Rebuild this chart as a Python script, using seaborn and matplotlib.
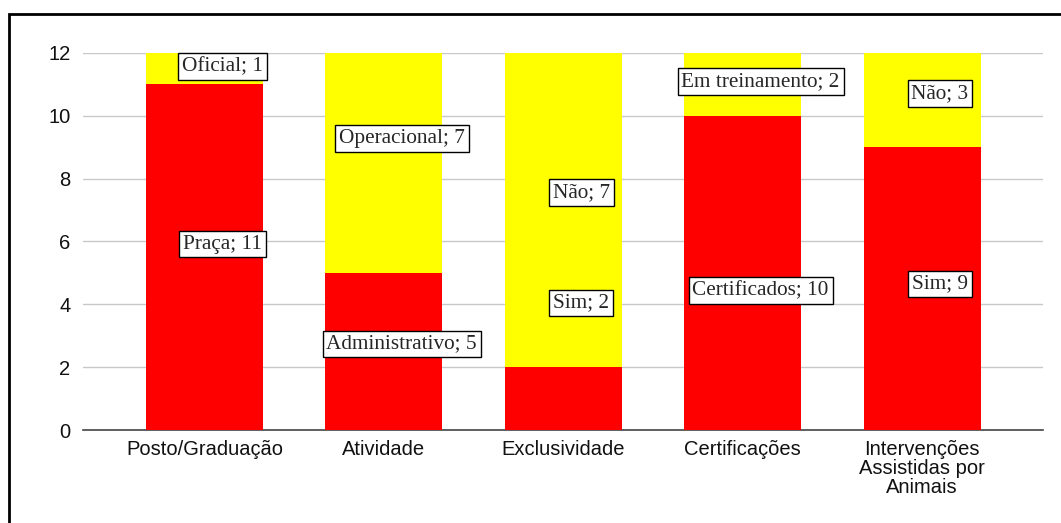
import matplotlib
matplotlib.use('Agg')
import matplotlib.pyplot as plt
import seaborn as sns
import pandas as pd
from matplotlib.patches import Rectangle

# dados
categorias = ['Posto/Graduação', 'Atividade', 'Exclusividade', 'Certificações',
              'Intervenções\nAssistidas por\nAnimais']
base = [11, 5, 2, 10, 9]          # série vermelha
topo = [1, 7, 10, 2, 3]           # série amarela (como desenhada)
rotulos_base = ['Praça; 11', 'Administrativo; 5', 'Sim; 2', 'Certificados; 10', 'Sim; 9']
rotulos_topo = ['Oficial; 1', 'Operacional; 7', 'Não; 7', 'Em treinamento; 2', 'Não; 3']
yticks = [0, 2, 4, 6, 8, 10, 12]

# posição dos rótulos (em unidades do eixo y)
pos_base = [5.92, 2.74, 4.04, 4.43, 4.65]
pos_topo = [11.56, 9.27, 7.55, 11.1, 10.7]

df = pd.DataFrame({'cat': categorias, 'base': base, 'topo': topo})
df['total'] = df['base'] + df['topo']

sns.set_style('white')
plt.rcParams['font.family'] = ['Liberation Sans', 'DejaVu Sans']

fig = plt.figure(figsize=(10.61, 5.23), dpi=100)
ax = fig.add_axes([0.0782, 0.1778, 0.9048, 0.7209])

sns.barplot(data=df, x='cat', y='total', color='#ffff00', saturation=1,
            width=0.652, linewidth=0, ax=ax, zorder=2)
sns.barplot(data=df, x='cat', y='base', color='#ff0000', saturation=1,
            width=0.652, linewidth=0, ax=ax, zorder=3)

ax.set_xlim(-0.677, 4.674)
ax.set_ylim(0, 12)
ax.set_yticks(yticks)
ax.set_xlabel('')
ax.set_ylabel('')
ax.grid(axis='y', color='#c8c8c8', linewidth=1, zorder=0)
ax.set_axisbelow(True)
for s in ['top', 'right', 'left']:
    ax.spines[s].set_visible(False)
ax.spines['bottom'].set_color('#444444')
ax.spines['bottom'].set_linewidth(1.2)
ax.tick_params(axis='both', length=0, labelsize=14.5, colors='#111111')
ax.tick_params(axis='y', pad=9)
ax.tick_params(axis='x', pad=7)
for t in ax.get_xticklabels():
    t.set_linespacing(1.0)

caixa = dict(boxstyle='square,pad=0.18', facecolor='white', edgecolor='black', linewidth=1)
for i in range(len(categorias)):
    ax.text(i + 0.1, pos_base[i], rotulos_base[i], ha='center', va='center',
            fontsize=15.3, family='Liberation Serif', bbox=caixa, zorder=5)
    ax.text(i + 0.1, pos_topo[i], rotulos_topo[i], ha='center', va='center',
            fontsize=15.3, family='Liberation Serif', bbox=caixa, zorder=5)

# moldura externa
fig.patches.append(Rectangle((0.0085, -0.05), 1.1, 0.024 + 1.0, transform=fig.transFigure,
                             fill=False, edgecolor='black', linewidth=2))

fig.savefig('out.png', dpi=100)
